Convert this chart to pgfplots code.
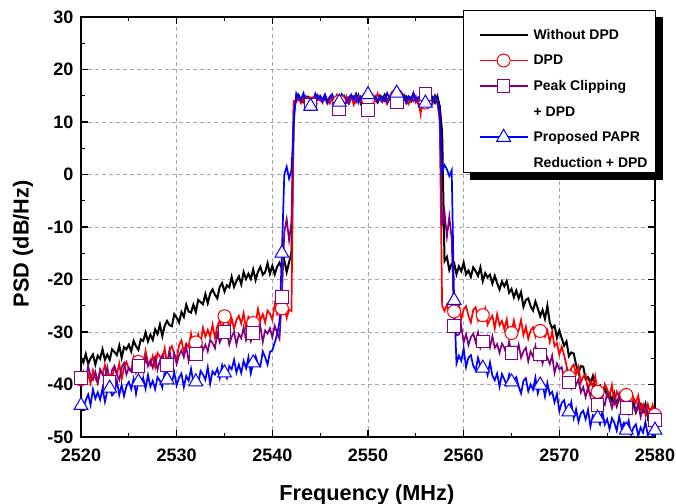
\documentclass[border=0pt]{standalone}
\usepackage{pgfplots}
\pgfplotsset{compat=1.18}
\usepackage{pgfplotstable}
\usepackage{fontspec}
\setmainfont{Liberation Sans}
\definecolor{ppl}{RGB}{128,0,128}

% PSD traces, 0.25 MHz step: k = without DPD, r = DPD, p = peak clipping + DPD, b = proposed
\pgfplotstableread{
x k r p b
2520.00 -34.9 -39.0 -38.8 -44.0
2520.25 -35.8 -38.7 -37.6 -44.5
2520.50 -34.2 -39.3 -39.0 -43.0
2520.75 -36.1 -38.1 -36.5 -41.9
2521.00 -35.0 -39.8 -38.5 -43.9
2521.25 -34.3 -37.3 -39.1 -40.9
2521.50 -36.2 -38.8 -37.6 -42.7
2521.75 -34.5 -39.8 -39.6 -41.5
2522.00 -35.1 -37.4 -37.1 -42.9
2522.25 -33.3 -38.1 -37.9 -40.7
2522.50 -35.3 -36.3 -38.7 -43.3
2522.75 -34.3 -38.7 -36.7 -41.2
2523.00 -35.3 -39.3 -39.5 -40.7
2523.25 -33.3 -38.9 -37.2 -42.1
2523.50 -33.8 -36.6 -36.5 -41.5
2523.75 -34.4 -38.0 -38.1 -39.3
2524.00 -32.6 -36.0 -39.1 -42.0
2524.25 -34.9 -39.0 -36.7 -40.1
2524.50 -32.9 -36.7 -35.9 -42.2
2524.75 -33.3 -35.7 -38.1 -40.3
2525.00 -32.4 -37.1 -36.8 -39.5
2525.25 -33.7 -37.5 -37.5 -40.9
2525.50 -31.7 -34.8 -35.2 -38.9
2525.75 -32.7 -35.9 -37.7 -41.8
2526.00 -33.4 -35.7 -36.5 -39.5
2526.25 -31.4 -35.0 -35.6 -40.1
2526.50 -31.7 -36.4 -37.5 -38.7
2526.75 -30.1 -33.6 -34.8 -40.8
2527.00 -31.8 -35.8 -36.5 -38.2
2527.25 -30.5 -36.3 -35.4 -40.4
2527.50 -31.5 -34.6 -36.8 -39.3
2527.75 -29.5 -36.7 -34.8 -40.9
2528.00 -30.4 -34.0 -37.2 -38.6
2528.25 -28.6 -34.7 -35.4 -39.3
2528.50 -30.8 -35.4 -34.4 -40.6
2528.75 -28.8 -33.1 -36.1 -37.6
2529.00 -27.9 -36.2 -36.3 -39.1
2529.25 -28.7 -33.5 -33.5 -38.4
2529.50 -28.9 -32.7 -36.0 -39.6
2529.75 -26.6 -34.2 -34.2 -37.7
2530.00 -27.3 -35.2 -36.1 -40.2
2530.25 -28.2 -32.5 -34.4 -38.7
2530.50 -26.2 -31.6 -33.5 -37.9
2530.75 -27.1 -33.8 -34.8 -40.5
2531.00 -24.8 -32.2 -32.8 -38.4
2531.25 -26.1 -32.9 -35.5 -39.3
2531.50 -26.3 -30.3 -33.3 -37.0
2531.75 -24.8 -32.9 -33.8 -39.7
2532.00 -26.2 -32.0 -34.2 -39.5
2532.25 -23.9 -30.4 -34.2 -40.0
2532.50 -24.3 -32.3 -31.7 -37.4
2532.75 -24.7 -29.2 -33.5 -38.1
2533.00 -22.8 -30.9 -32.4 -39.1
2533.25 -24.5 -29.6 -33.7 -36.7
2533.50 -22.7 -30.9 -31.5 -39.9
2533.75 -21.9 -28.6 -32.1 -37.5
2534.00 -22.9 -31.1 -33.1 -38.1
2534.25 -23.6 -28.9 -30.3 -37.0
2534.50 -21.4 -27.8 -32.0 -38.8
2534.75 -20.7 -29.7 -30.9 -36.3
2535.00 -22.3 -27.0 -30.0 -37.8
2535.25 -21.1 -26.7 -30.1 -38.8
2535.50 -21.5 -29.4 -32.4 -36.5
2535.75 -19.5 -27.4 -30.9 -37.1
2536.00 -21.4 -29.4 -30.0 -35.3
2536.25 -20.3 -27.7 -32.4 -37.7
2536.50 -19.4 -26.9 -30.4 -36.2
2536.75 -20.9 -28.4 -31.2 -37.8
2537.00 -18.6 -26.4 -29.1 -35.5
2537.25 -19.9 -29.4 -31.6 -36.9
2537.50 -18.9 -27.1 -30.5 -34.8
2537.75 -19.9 -27.7 -31.8 -37.9
2538.00 -18.1 -28.3 -30.2 -35.9
2538.25 -20.1 -28.3 -30.1 -34.6
2538.50 -18.5 -25.6 -31.0 -36.0
2538.75 -17.6 -27.8 -28.9 -36.5
2539.00 -19.1 -26.6 -31.9 -33.7
2539.25 -18.6 -28.2 -29.7 -34.8
2539.50 -16.9 -25.9 -30.3 -36.2
2539.75 -18.9 -26.5 -29.3 -33.8
2540.00 -17.4 -27.7 -31.0 -33.5
2540.25 -19.0 -24.7 -28.8 -32.0
2540.50 -17.6 -26.6 -30.2 -30.5
2540.75 -16.8 -25.5 -31.3 -28.0
2541.00 -17.9 -25.5 -23.3 -15.0
2541.25 -16.3 -24.8 -11.0 0.0
2541.50 -18.6 -27.3 -8.5 1.5
2541.75 -16.7 -25.8 -12.5 -0.8
2542.00 -15.0 -26.0 -9.0 0.8
2542.25 13.5 14.0 12.0 10.0
2542.50 14.0 13.8 14.4 15.5
2542.75 15.1 14.4 14.7 14.7
2543.00 14.1 13.6 14.0 14.3
2543.25 14.6 14.9 13.7 15.5
2543.50 13.8 14.5 14.9 14.0
2543.75 14.8 14.0 14.3 14.6
2544.00 14.5 13.5 13.3 13.0
2544.25 13.9 13.4 14.6 13.9
2544.50 15.2 14.7 13.9 15.4
2544.75 14.3 14.2 15.1 14.4
2545.00 14.8 14.8 14.1 15.0
2545.25 14.2 13.7 13.8 14.1
2545.50 15.1 15.0 14.5 15.2
2545.75 13.9 14.2 13.5 13.8
2546.00 14.5 13.5 14.7 14.8
2546.25 14.9 14.7 14.3 15.3
2546.50 13.7 14.3 13.8 14.2
2546.75 14.6 15.2 14.8 14.5
2547.00 14.2 13.9 12.5 13.8
2547.25 15.2 14.6 14.4 14.0
2547.50 14.0 13.7 14.7 15.0
2547.75 14.5 14.9 14.0 13.8
2548.00 13.8 14.0 13.4 14.7
2548.25 14.9 15.1 14.6 15.2
2548.50 14.6 13.3 14.9 14.3
2548.75 14.1 14.5 13.7 15.4
2549.00 15.1 14.9 14.3 13.7
2549.25 13.6 14.1 13.9 14.9
2549.50 14.7 13.7 15.0 14.5
2549.75 14.3 15.1 13.7 15.2
2550.00 14.8 14.4 12.3 15.2
2550.25 13.9 13.6 14.6 15.4
2550.50 15.0 14.8 13.6 14.3
2550.75 14.3 14.0 14.9 14.8
2551.00 13.7 15.4 14.0 13.9
2551.25 14.8 14.2 14.5 15.1
2551.50 14.4 13.8 13.8 14.7
2551.75 15.2 14.7 14.7 14.0
2552.00 14.0 13.5 13.5 15.5
2552.25 14.6 14.9 14.4 14.5
2552.50 13.9 14.4 14.8 15.0
2552.75 14.9 13.9 13.8 14.3
2553.00 14.2 15.0 13.8 15.5
2553.25 15.1 13.5 15.0 14.0
2553.50 13.6 14.6 13.7 14.7
2553.75 14.6 14.9 14.6 15.2
2554.00 14.9 14.0 13.5 13.8
2554.25 14.2 13.4 14.3 14.9
2554.50 13.9 14.7 14.7 14.4
2554.75 15.1 15.1 14.0 15.6
2555.00 14.5 13.7 14.9 14.1
2555.25 13.8 14.4 13.4 14.7
2555.50 14.8 11.5 14.4 13.9
2555.75 14.1 15.2 14.1 15.2
2556.00 15.3 13.7 15.3 13.6
2556.25 14.3 14.3 13.8 14.3
2556.50 14.0 14.8 14.9 15.4
2556.75 14.7 13.6 13.9 13.7
2557.00 13.7 15.1 14.4 15.0
2557.25 14.9 14.1 13.6 14.5
2557.50 13.0 10.0 11.0 12.0
2557.75 8.0 -25.0 -9.5 0.5
2558.00 -16.5 -26.0 -7.2 1.8
2558.25 -15.7 -24.8 -11.8 1.0
2558.50 -18.2 -26.5 -8.0 -0.3
2558.75 -17.0 -25.4 -12.3 0.8
2559.00 -16.8 -26.1 -28.9 -24.0
2559.25 -19.0 -26.9 -30.6 -36.0
2559.50 -17.5 -24.8 -30.5 -34.5
2559.75 -18.4 -27.6 -28.9 -35.5
2560.00 -16.8 -25.7 -32.0 -33.1
2560.25 -19.0 -25.1 -30.4 -36.7
2560.50 -18.3 -26.9 -32.5 -34.9
2560.75 -19.5 -28.2 -31.0 -34.4
2561.00 -17.7 -25.8 -30.3 -36.4
2561.25 -18.4 -25.3 -31.9 -37.3
2561.50 -19.3 -27.8 -30.1 -34.9
2561.75 -17.7 -26.6 -33.0 -36.5
2562.00 -20.3 -26.8 -31.8 -36.9
2562.25 -18.8 -25.5 -31.8 -36.4
2562.50 -19.6 -28.6 -30.8 -38.2
2562.75 -19.1 -27.6 -32.9 -35.8
2563.00 -20.8 -26.9 -30.8 -38.3
2563.25 -19.3 -29.3 -33.0 -39.2
2563.50 -20.7 -26.6 -32.3 -37.9
2563.75 -21.9 -28.7 -34.0 -40.4
2564.00 -20.4 -27.9 -32.2 -38.0
2564.25 -21.3 -29.5 -33.0 -39.0
2564.50 -20.3 -27.6 -34.4 -40.1
2564.75 -22.5 -30.5 -31.8 -38.1
2565.00 -21.8 -30.2 -34.0 -39.5
2565.25 -23.4 -27.8 -32.9 -39.1
2565.50 -22.1 -30.0 -34.2 -38.6
2565.75 -23.6 -29.7 -32.4 -40.4
2566.00 -22.4 -27.7 -34.9 -41.7
2566.25 -25.2 -30.6 -33.7 -39.3
2566.50 -23.9 -29.0 -33.0 -38.8
2566.75 -23.6 -31.3 -35.6 -41.3
2567.00 -25.1 -29.7 -33.7 -40.0
2567.25 -25.9 -29.1 -34.7 -41.0
2567.50 -24.2 -30.8 -32.7 -38.7
2567.75 -25.5 -29.0 -35.3 -41.7
2568.00 -27.0 -29.8 -34.3 -40.1
2568.25 -25.8 -30.1 -36.0 -39.9
2568.50 -27.5 -30.9 -33.9 -42.3
2568.75 -25.0 -29.7 -34.9 -39.7
2569.00 -28.2 -31.9 -36.1 -41.9
2569.25 -29.3 -29.9 -34.5 -41.4
2569.50 -28.8 -32.7 -37.8 -43.4
2569.75 -31.1 -32.1 -36.0 -41.8
2570.00 -29.7 -34.3 -37.1 -45.1
2570.25 -31.2 -32.8 -36.7 -43.5
2570.50 -32.6 -34.4 -39.0 -43.0
2570.75 -31.8 -36.4 -37.3 -45.4
2571.00 -34.6 -38.5 -39.6 -45.2
2571.25 -33.9 -36.8 -40.7 -43.4
2571.50 -34.1 -36.2 -39.1 -46.4
2571.75 -36.2 -38.0 -40.1 -44.7
2572.00 -37.8 -36.6 -39.0 -47.1
2572.25 -36.5 -39.6 -41.5 -45.5
2572.50 -36.6 -38.5 -40.5 -45.0
2572.75 -39.0 -38.1 -42.4 -46.6
2573.00 -38.6 -41.1 -40.5 -44.8
2573.25 -39.7 -39.3 -42.3 -48.0
2573.50 -38.4 -40.4 -40.7 -45.9
2573.75 -41.0 -38.4 -44.0 -46.6
2574.00 -40.5 -41.4 -43.9 -46.4
2574.25 -40.2 -40.6 -41.5 -47.6
2574.50 -42.3 -42.2 -43.1 -45.2
2574.75 -40.4 -39.9 -43.9 -47.6
2575.00 -42.3 -40.9 -41.6 -46.6
2575.25 -41.7 -42.2 -42.9 -48.5
2575.50 -43.1 -40.1 -44.5 -46.4
2575.75 -41.7 -43.5 -42.6 -47.3
2576.00 -44.0 -41.4 -44.1 -48.8
2576.25 -42.7 -42.3 -41.8 -46.1
2576.50 -42.2 -41.5 -44.0 -48.2
2576.75 -43.9 -43.6 -44.8 -47.3
2577.00 -43.7 -42.0 -44.5 -48.7
2577.25 -42.3 -43.3 -45.6 -46.9
2577.50 -44.7 -44.6 -43.3 -49.6
2577.75 -43.4 -42.5 -44.3 -48.2
2578.00 -45.3 -43.5 -45.2 -47.6
2578.25 -44.2 -42.1 -43.5 -49.8
2578.50 -43.7 -44.8 -46.2 -48.2
2578.75 -45.1 -43.8 -44.5 -49.2
2579.00 -43.7 -45.7 -44.1 -47.1
2579.25 -46.3 -43.8 -45.9 -49.7
2579.50 -44.8 -45.5 -47.2 -48.9
2579.75 -45.4 -43.9 -45.1 -49.8
2580.00 -44.6 -45.8 -46.8 -48.7
}\psd

\begin{document}
\begin{tikzpicture}
\begin{axis}[
  name=ax,
  scale only axis, width=574pt, height=420pt,
  xmin=2520, xmax=2580, ymin=-50, ymax=30,
  xtick={2520,2530,...,2580}, ytick={-50,-40,...,30},
  minor x tick num=1, minor y tick num=1,
  tick align=inside,
  major tick length=7pt, minor tick length=4pt,
  axis line style={line width=1.5pt},
  tick style={black, line width=1.3pt},
  grid=major,
  major grid style={gray!70, line width=0.8pt, dash pattern=on 4pt off 3pt},
  /pgf/number format/assume math mode=true,
  /pgf/number format/1000 sep={},
  ticklabel style={font=\bfseries\fontsize{18}{18}\selectfont},
  xticklabel style={yshift=-8pt},
  yticklabel style={xshift=-4pt},
  xlabel={Frequency (MHz)}, ylabel={PSD (dB/Hz)},
  label style={font=\bfseries\fontsize{21.7}{24}\selectfont},
  xlabel style={at={(axis description cs:0.498,-0.137)}, anchor=center},
  ylabel style={at={(axis description cs:-0.101,0.46)}, anchor=center},
  legend cell align=left,
  legend style={name=leg, at={(axis description cs:1.0017,1.0167)}, anchor=north east,
    draw=black, line width=0.8pt, fill=white,
    font=\bfseries\fontsize{14}{16}\selectfont,
    inner xsep=6pt, inner ysep=3pt, row sep=-2.4pt,
    nodes={inner sep=2pt, text height=24pt, text depth=0pt}},
  legend image code/.code={
    \path (0pt,0pt) (60pt,0pt);
    \draw[mark repeat=2,mark phase=2] plot coordinates {(9pt,-7.5pt) (33pt,-7.5pt) (57pt,-7.5pt)};},
]
\addplot[black, line width=2pt] table[x=x,y=k] {\psd};
\addlegendentry{Without DPD}
\addplot[red, line width=1.7pt, mark=*, mark repeat=12, mark phase=1, mark size=6.5pt,
  mark options={fill=white, line width=1pt}] table[x=x,y=r] {\psd};
\addlegendentry{DPD}
\addplot[ppl, line width=1.7pt, mark=square*, mark repeat=12, mark phase=1, mark size=6.3pt,
  mark options={fill=white, line width=1pt}] table[x=x,y=p] {\psd};
\addlegendentry{Peak Clipping}
\addlegendimage{empty legend}
\addlegendentry{+ DPD}
\addplot[blue, line width=1.7pt, mark=triangle*, mark repeat=12, mark phase=1, mark size=8pt,
  mark options={fill=white, line width=1pt}] table[x=x,y=b] {\psd};
\addlegendentry{Proposed PAPR}
\addlegendimage{empty legend}
\addlegendentry{Reduction + DPD}
\end{axis}
% legend shadow, an L-shaped strip to the right of and below the box
\fill[black] ([yshift=-7pt]leg.north east) rectangle ([xshift=7pt,yshift=-7pt]leg.south east);
\fill[black] ([xshift=7pt]leg.south west) rectangle ([xshift=7pt,yshift=-7pt]leg.south east);
\pgfresetboundingbox
\path[use as bounding box] ([xshift=-81pt,yshift=-67pt]ax.south west) rectangle ([xshift=21pt,yshift=17pt]ax.north east);
\end{tikzpicture}
\end{document}
